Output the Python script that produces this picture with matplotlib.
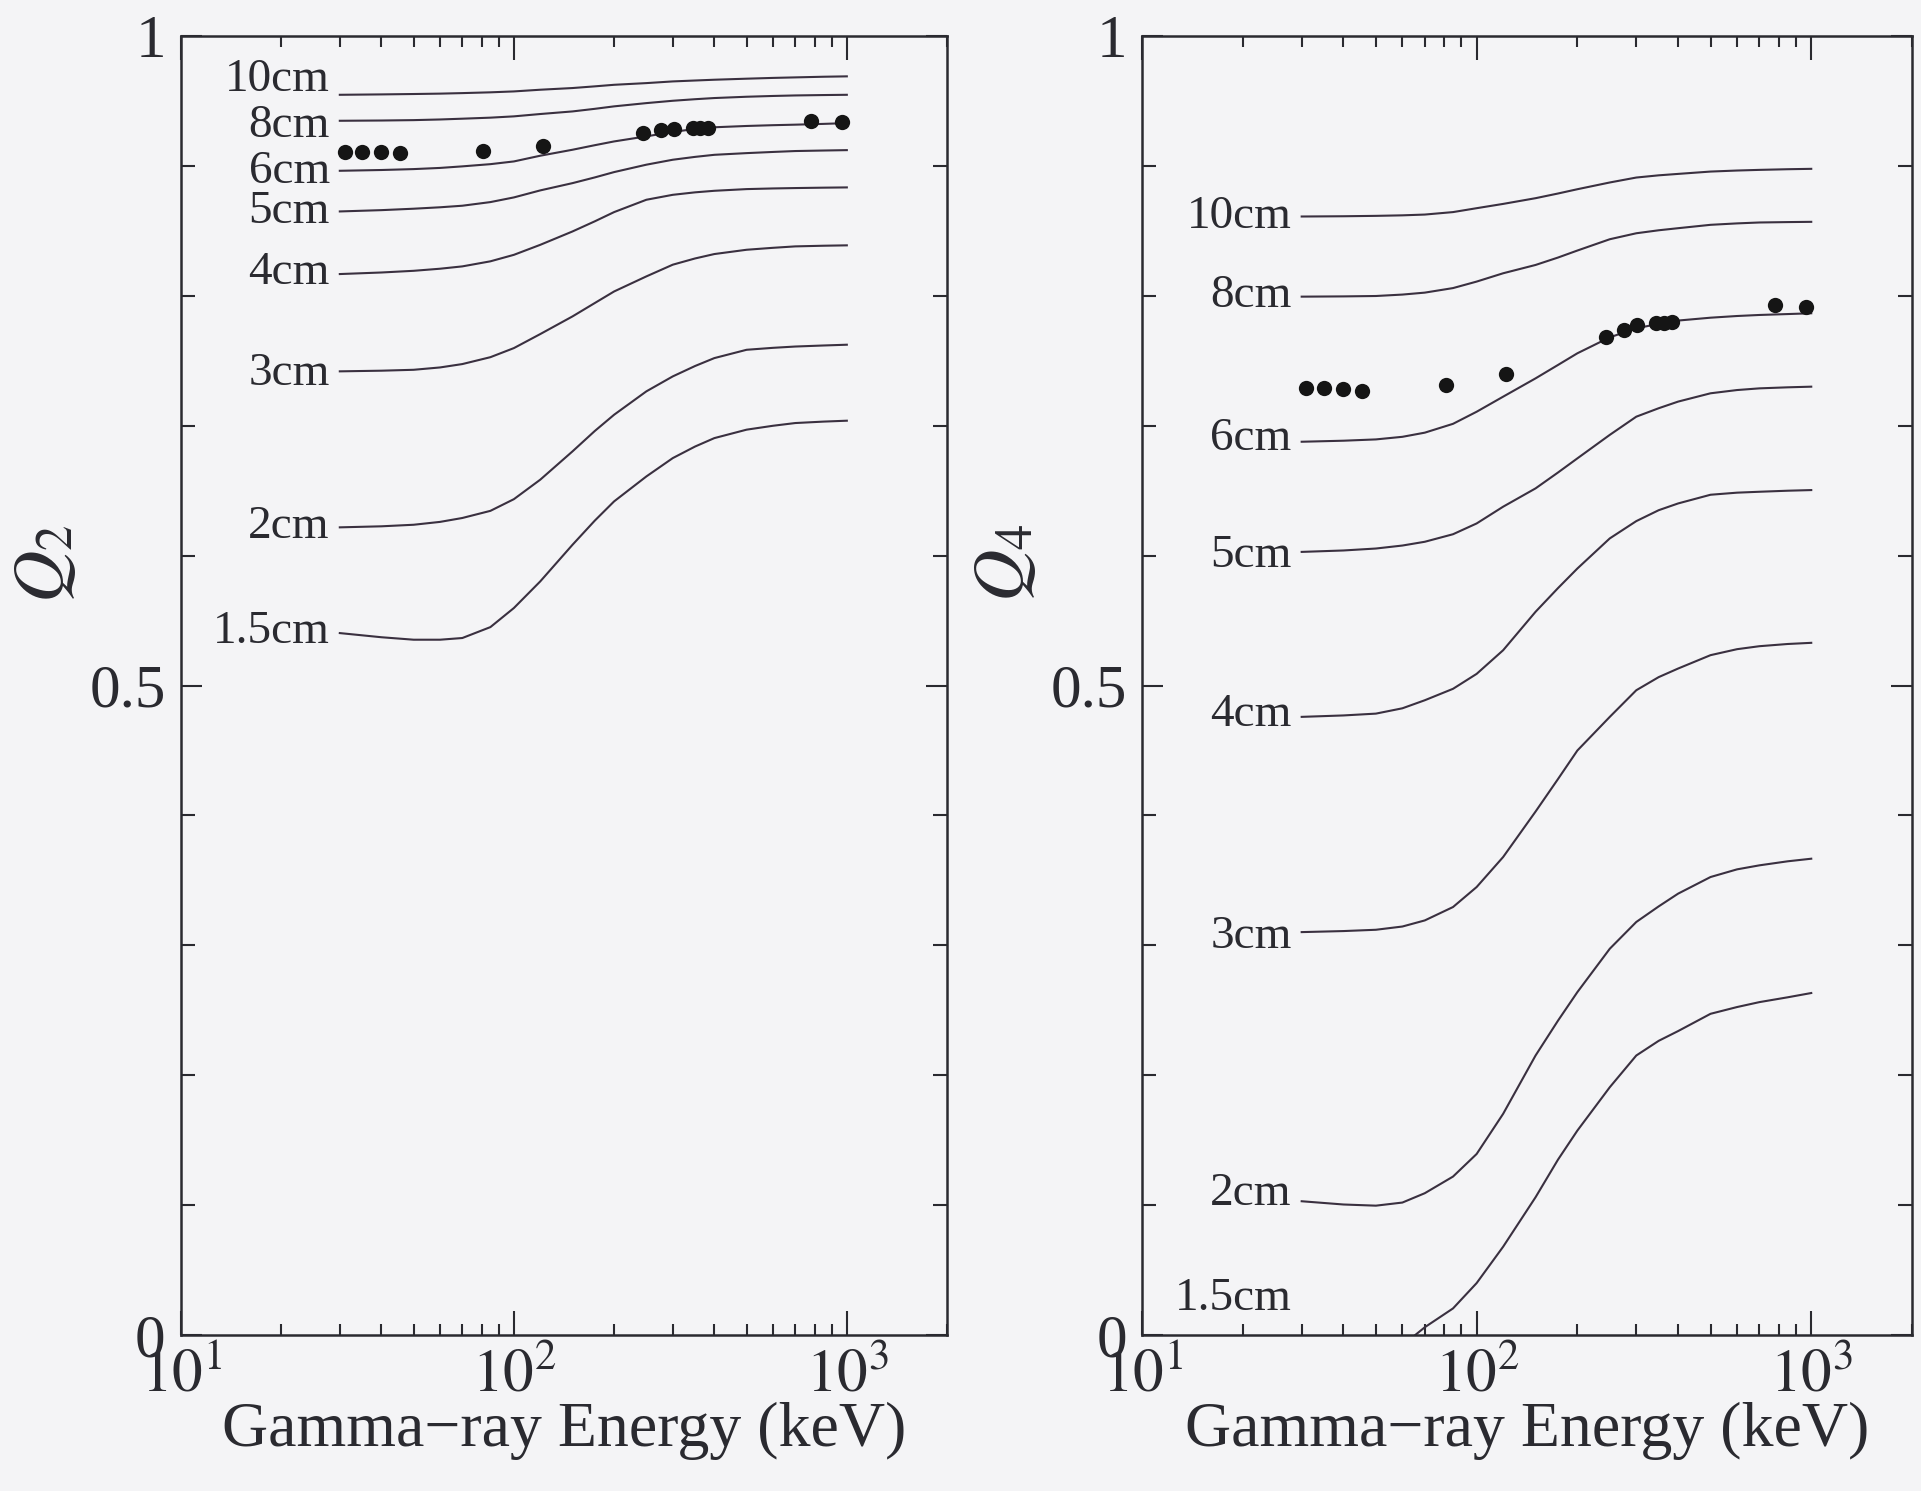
import matplotlib
matplotlib.use("Agg")
import matplotlib.pyplot as plt
from matplotlib.ticker import FixedLocator, MultipleLocator, LogLocator, NullFormatter, FixedFormatter

plt.rcParams['font.family'] = ['Liberation Serif', 'DejaVu Serif']
plt.rcParams['mathtext.fontset'] = 'stix'

energy = [30, 40, 50, 60, 70, 85, 100, 120, 150, 175, 200, 250, 300, 350, 400, 500, 600, 700, 850, 1000]
thickness = ['10cm', '8cm', '6cm', '5cm', '4cm', '3cm', '2cm', '1.5cm']

# Q2 curves (left panel)
q2_10cm = [0.9548, 0.9551, 0.9554, 0.9557, 0.9561, 0.9567, 0.9574, 0.9587, 0.960, 0.9613, 0.9625, 0.9638, 0.9651, 0.9658, 0.9664, 0.9672, 0.9678, 0.9682, 0.9687, 0.969]
q2_8cm = [0.9348, 0.935, 0.9353, 0.9358, 0.9364, 0.9372, 0.9382, 0.940, 0.942, 0.944, 0.9459, 0.9484, 0.9502, 0.9514, 0.9523, 0.9533, 0.9539, 0.9543, 0.9546, 0.9548]
q2_6cm = [0.8963, 0.8969, 0.8976, 0.8985, 0.8997, 0.9014, 0.9035, 0.9079, 0.9125, 0.916, 0.9189, 0.9228, 0.9262, 0.9285, 0.9298, 0.9308, 0.9314, 0.9318, 0.9324, 0.933]
q2_5cm = [0.865, 0.866, 0.8671, 0.8682, 0.8694, 0.8722, 0.8758, 0.8812, 0.8868, 0.8912, 0.8953, 0.901, 0.9048, 0.907, 0.9086, 0.9099, 0.9108, 0.9115, 0.9119, 0.9122]
q2_4cm = [0.8168, 0.818, 0.8193, 0.8209, 0.8227, 0.8266, 0.8316, 0.8393, 0.8496, 0.8574, 0.8645, 0.874, 0.8778, 0.8797, 0.8809, 0.8822, 0.8827, 0.883, 0.8833, 0.8835]
q2_3cm = [0.7419, 0.7424, 0.7431, 0.7449, 0.7475, 0.7528, 0.7598, 0.7706, 0.7842, 0.7945, 0.8034, 0.815, 0.824, 0.8288, 0.8322, 0.8355, 0.837, 0.8381, 0.8386, 0.8389]
q2_2cm = [0.6218, 0.6226, 0.6238, 0.626, 0.629, 0.6345, 0.6435, 0.6585, 0.6803, 0.696, 0.7085, 0.7265, 0.738, 0.746, 0.7521, 0.7585, 0.760, 0.761, 0.7618, 0.7624]
q2_15cm = [0.5404, 0.5372, 0.5353, 0.5353, 0.5366, 0.545, 0.5597, 0.5802, 0.6084, 0.627, 0.6418, 0.661, 0.6751, 0.684, 0.6905, 0.697, 0.700, 0.7021, 0.7032, 0.7039]

# Q4 curves (right panel)
q4_10cm = [0.8611, 0.8613, 0.8616, 0.862, 0.8626, 0.8645, 0.8675, 0.8708, 0.8752, 0.8788, 0.8821, 0.8873, 0.8911, 0.8928, 0.8939, 0.8957, 0.8965, 0.897, 0.8975, 0.8978]
q4_8cm = [0.7994, 0.7996, 0.7999, 0.801, 0.8025, 0.806, 0.811, 0.8174, 0.8238, 0.8295, 0.8349, 0.8436, 0.8482, 0.8505, 0.8521, 0.8547, 0.8558, 0.8565, 0.8568, 0.857]
q4_6cm = [0.6877, 0.6885, 0.6895, 0.6915, 0.6947, 0.7015, 0.7108, 0.7224, 0.7365, 0.7468, 0.7558, 0.7681, 0.775, 0.7785, 0.781, 0.7832, 0.7845, 0.7853, 0.786, 0.7866]
q4_5cm = [0.6029, 0.604, 0.6055, 0.6078, 0.6107, 0.6165, 0.6248, 0.6377, 0.6518, 0.664, 0.6749, 0.693, 0.707, 0.7135, 0.7186, 0.725, 0.7275, 0.7288, 0.7296, 0.7301]
q4_4cm = [0.4759, 0.477, 0.4784, 0.4825, 0.4887, 0.4975, 0.509, 0.5272, 0.5568, 0.575, 0.5901, 0.6133, 0.6266, 0.635, 0.6402, 0.6469, 0.6485, 0.6492, 0.650, 0.6505]
q4_3cm = [0.3102, 0.311, 0.312, 0.3145, 0.3192, 0.3295, 0.3449, 0.368, 0.403, 0.428, 0.450, 0.4759, 0.4964, 0.5065, 0.5131, 0.5234, 0.528, 0.5303, 0.532, 0.5329]
q4_2cm = [0.103, 0.1005, 0.0996, 0.102, 0.1092, 0.122, 0.1394, 0.1703, 0.2152, 0.242, 0.264, 0.2974, 0.318, 0.330, 0.3398, 0.3526, 0.3585, 0.3616, 0.3647, 0.3667]
energy_q4_15cm = [55, 60, 70, 85, 100, 120, 150, 175, 200, 250, 300, 350, 400, 500, 600, 700, 850, 1000]
q4_15cm = [-0.02, -0.008, 0.006, 0.0205, 0.04, 0.068, 0.1061, 0.135, 0.1574, 0.1908, 0.2152, 0.2265, 0.234, 0.2473, 0.2525, 0.2563, 0.260, 0.2633]

# measured points
dot_energy = [31, 35, 40, 45.5, 81, 122, 244, 276, 302, 344, 362, 384, 779, 964]
dot_q2 = [0.9105, 0.9105, 0.9105, 0.910, 0.9117, 0.915, 0.9253, 0.9279, 0.9284, 0.9292, 0.9292, 0.9292, 0.9343, 0.9336]
dot_q4 = [0.7288, 0.7288, 0.728, 0.727, 0.7314, 0.7398, 0.7681, 0.7737, 0.7776, 0.7789, 0.7789, 0.7802, 0.793, 0.7918]

# where the thickness labels sit
label_y_q2 = [0.9667, 0.9306, 0.8959, 0.8646, 0.8175, 0.7401, 0.6222, 0.5412]
label_y_q4 = [0.8606, 0.800, 0.690, 0.600, 0.4776, 0.307, 0.109, 0.028]

y_tick_labels = ['0', '0.5', '1']
x_tick_labels = ['$10^1$', '$10^2$', '$10^3$']

bg = '#f4f4f6'
ink = '#2a2a30'
line_c = '#3a3040'

fig = plt.figure(figsize=(19.21, 14.91), dpi=100, facecolor=bg)
ax1 = fig.add_axes([0.0942, 0.1046, 0.3988, 0.8712])
ax2 = fig.add_axes([0.5945, 0.1046, 0.4008, 0.8712])

panels = [
    (ax1, [q2_10cm, q2_8cm, q2_6cm, q2_5cm, q2_4cm, q2_3cm, q2_2cm, q2_15cm], [energy] * 8,
     dot_q2, label_y_q2, '$Q_2$'),
    (ax2, [q4_10cm, q4_8cm, q4_6cm, q4_5cm, q4_4cm, q4_3cm, q4_2cm, q4_15cm], [energy] * 7 + [energy_q4_15cm],
     dot_q4, label_y_q4, '$Q_4$'),
]

for ax, curves, xs, dots, label_y, ylab in panels:
    ax.set_facecolor(bg)
    for x, q in zip(xs, curves):
        ax.plot(x, q, color=line_c, lw=1.5, solid_joinstyle='round')
    ax.plot(dot_energy, dots, 'o', color='#151515', ms=11, mec='none')
    for name, ly in zip(thickness, label_y):
        ax.text(28, ly, name, ha='right', va='center', fontsize=34, color=ink)

    ax.set_xscale('log')
    ax.set_xlim(10, 2000)
    ax.set_ylim(0, 1)

    ax.xaxis.set_major_locator(FixedLocator([10, 100, 1000]))
    ax.xaxis.set_major_formatter(FixedFormatter(x_tick_labels))
    ax.xaxis.set_minor_locator(LogLocator(base=10, subs=range(2, 10)))
    ax.xaxis.set_minor_formatter(NullFormatter())
    ax.yaxis.set_major_locator(FixedLocator([0, 0.5, 1]))
    ax.yaxis.set_major_formatter(FixedFormatter(y_tick_labels))
    ax.yaxis.set_minor_locator(MultipleLocator(0.1))

    ax.tick_params(which='both', direction='in', top=True, right=True, color=ink, width=1.5)
    ax.tick_params(axis='x', which='major', length=17, pad=10, labelsize=44, labelcolor=ink)
    ax.tick_params(axis='x', which='minor', length=8)
    ax.tick_params(axis='y', which='major', length=15, pad=11, labelsize=44, labelcolor=ink)
    ax.tick_params(axis='y', which='minor', length=10)
    for s in ax.spines.values():
        s.set_color(ink)
        s.set_linewidth(1.8)

    ax.set_xlabel('Gamma\u2212ray Energy (keV)', fontsize=46, color=ink, labelpad=-2)
    ax.set_ylabel(ylab, fontsize=52, color=ink)
    ax.yaxis.set_label_coords(-0.135, 0.594)

fig.savefig('out.png', dpi=100, facecolor=bg)
